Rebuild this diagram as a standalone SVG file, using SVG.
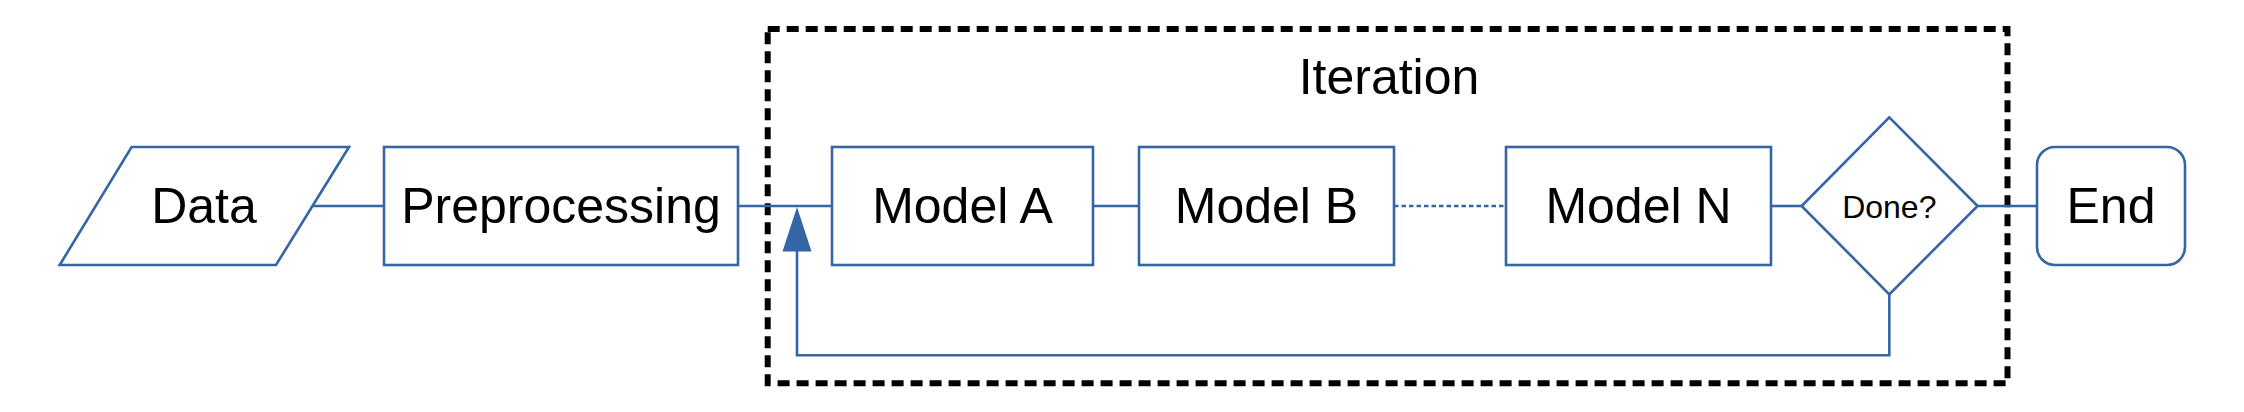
<svg xmlns="http://www.w3.org/2000/svg" width="2244" height="412" viewBox="0 0 2244 412">
<style>
.n{fill:#ffffff;stroke:#3465a4;stroke-width:2.6}
.c{fill:none;stroke:#3465a4;stroke-width:2.6}
.t{font-family:"Liberation Sans",Arial,sans-serif;font-size:50px;fill:#000;text-anchor:middle}
.s{font-size:32px}
</style>
<rect width="2244" height="412" fill="#ffffff"/>
<g id="iteration">
<rect x="767.7" y="29" width="1239.8" height="354.3" fill="none" stroke="#000" stroke-width="6" stroke-dasharray="12 7"/>
<text class="t" x="1389" y="94">Iteration</text>
</g>
<g id="connectors">
<line class="c" x1="312.5" y1="206" x2="384" y2="206"/>
<line class="c" x1="738" y1="206" x2="832" y2="206"/>
<line class="c" x1="1093" y1="206" x2="1139" y2="206"/>
<line class="c" x1="1394" y1="206" x2="1506" y2="206" stroke-dasharray="4.5 3"/>
<line class="c" x1="1771" y1="206" x2="1801.6" y2="206"/>
<line class="c" x1="1977.6" y1="206" x2="2037" y2="206"/>
<polyline class="c" points="1889.3,294.3 1889.3,355.3 797,355.3 797,250"/>
<polygon points="797,207 782.5,251.5 811.5,251.5" fill="#3465a4"/>
</g>
<g id="data">
<polygon class="n" points="131.6,147 349,147 276,265 59.7,265"/>
<text class="t" x="204" y="223">Data</text>
</g>
<g id="preprocessing">
<rect class="n" x="384" y="147" width="354" height="118"/>
<text class="t" x="561" y="223">Preprocessing</text>
</g>
<g id="modelA">
<rect class="n" x="832" y="147" width="261" height="118"/>
<text class="t" x="962.5" y="223">Model A</text>
</g>
<g id="modelB">
<rect class="n" x="1139" y="147" width="255" height="118"/>
<text class="t" x="1266.5" y="223">Model B</text>
</g>
<g id="modelN">
<rect class="n" x="1506" y="147" width="265" height="118"/>
<text class="t" x="1638.5" y="223">Model N</text>
</g>
<g id="done">
<polygon class="n" points="1889.3,117.3 1977.6,206 1889.3,294.3 1801.6,206"/>
<text class="t s" x="1889.3" y="217.5">Done?</text>
</g>
<g id="end">
<rect class="n" x="2037" y="147" width="148" height="118" rx="18" ry="18"/>
<text class="t" x="2111" y="223">End</text>
</g>
</svg>
